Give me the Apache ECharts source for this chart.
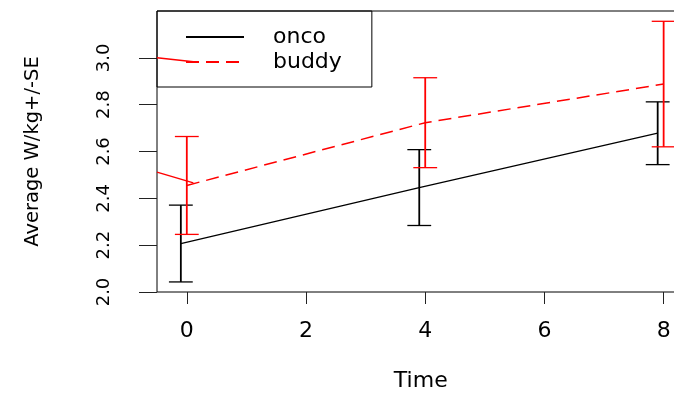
<!DOCTYPE html>
<html><head><meta charset="utf-8">
<script src="https://cdn.jsdelivr.net/npm/echarts@6/dist/echarts.min.js"></script>
<style>html,body{margin:0;padding:0;background:#fff}#c{width:674px;height:395px}</style>
</head><body><div id="c"></div>
<script>
// ---- data ----
const xTicks = [0, 2, 4, 6, 8];
const yTicks = [2.0, 2.2, 2.4, 2.6, 2.8, 3.0];
const oncoTime = [-0.1, 3.9, 7.9];
const oncoMean = [2.207, 2.446, 2.678];
const oncoSE = [0.164, 0.162, 0.134];
const buddyTime = [0, 4, 8];
const buddyMean = [2.455, 2.723, 2.888];
const buddySE = [0.209, 0.192, 0.268];
// stray solid red strokes visible in the reference (start of dashed paths)
const buddyStrayX = [-0.5, 0.11];
const buddyStrayY = [2.512, 2.466];
const legendStrayX = [-0.5, 0.11];
const legendStrayY = [3.0, 2.983];

const zip = (a, b) => a.map((v, i) => [v, b[i]]);
const errData = (t, m, s) => t.map((v, i) => [v, m[i] - s[i], m[i] + s[i]]);

function errorBar(color) {
  return function (params, api) {
    const x = api.value(0), lo = api.value(1), hi = api.value(2);
    const top = api.coord([x, hi]), bot = api.coord([x, lo]);
    const half = api.size([0.2, 0])[0];
    return {
      type: 'group',
      children: [
        { type: 'line', shape: { x1: top[0], y1: top[1], x2: bot[0], y2: bot[1] }, style: { stroke: color, lineWidth: 1.8 } },
        { type: 'line', shape: { x1: top[0] - half, y1: top[1], x2: top[0] + half, y2: top[1] }, style: { stroke: color, lineWidth: 1.3 } },
        { type: 'line', shape: { x1: bot[0] - half, y1: bot[1], x2: bot[0] + half, y2: bot[1] }, style: { stroke: color, lineWidth: 1.3 } }
      ]
    };
  };
}

const chart = echarts.init(document.getElementById('c'), null, { renderer: 'canvas' });
chart.setOption({
  animation: false,
  backgroundColor: '#fff',
  grid: { left: 157, top: 11, width: 527.5, height: 281, show: true, borderColor: '#000', borderWidth: 1, backgroundColor: 'transparent', containLabel: false, outerBoundsMode: 'none' },
  legend: {
    data: ['onco', 'buddy'],
    orient: 'vertical',
    left: 157, top: 11,
    padding: [15, 30, 14, 28],
    itemWidth: 58, itemHeight: 14, itemGap: 3,
    borderColor: '#000', borderWidth: 1,
    itemStyle: { opacity: 0 },
    textStyle: { fontFamily: 'DejaVu Sans', fontSize: 22, color: '#000', lineHeight: 22, padding: [0, 0, 0, 24] },
    selectedMode: false
  },
  xAxis: {
    type: 'value', min: -0.5, max: 8.35,
    name: 'Time', nameLocation: 'middle', nameGap: 78,
    nameTextStyle: { fontFamily: 'DejaVu Sans', fontSize: 22, color: '#000' },
    axisLine: { show: false, onZero: false },
    axisTick: { show: true, customValues: xTicks, length: 12, lineStyle: { color: '#222', width: 1 } },
    axisLabel: { customValues: xTicks, margin: 28, fontFamily: 'DejaVu Sans', fontSize: 22, color: '#000' },
    splitLine: { show: false }
  },
  yAxis: {
    type: 'value', min: 2.0, max: 3.2,
    name: 'Average W/kg+/-SE', nameLocation: 'middle', nameGap: 114, nameRotate: 90,
    nameTextStyle: { fontFamily: 'DejaVu Sans', fontSize: 19.5, color: '#000' },
    axisLine: { show: false, onZero: false },
    axisTick: { show: true, customValues: yTicks, length: 18, lineStyle: { color: '#222', width: 1 } },
    axisLabel: { customValues: yTicks, rotate: 90, margin: 44, fontFamily: 'DejaVu Sans', fontSize: 18, color: '#000', formatter: v => v.toFixed(1) },
    splitLine: { show: false }
  },
  series: [
    { name: 'onco', type: 'line', data: zip(oncoTime, oncoMean), symbol: 'none', lineStyle: { color: '#000', width: 1.3 }, itemStyle: { color: '#000' }, z: 3 },
    { name: 'buddy', type: 'line', data: zip(buddyTime, buddyMean), symbol: 'none', lineStyle: { color: '#ff0000', width: 1.5, type: [13, 7] }, itemStyle: { color: '#ff0000' }, z: 3 },
    { name: 'strayA', type: 'line', data: zip(buddyStrayX, buddyStrayY), symbol: 'none', silent: true, lineStyle: { color: '#ff0000', width: 1.5 }, z: 3 },
    { name: 'strayB', type: 'line', data: zip(legendStrayX, legendStrayY), symbol: 'none', silent: true, lineStyle: { color: '#ff0000', width: 1.5 }, z: 5 },
    { name: 'oncoSE', type: 'custom', renderItem: errorBar('#000'), data: errData(oncoTime, oncoMean, oncoSE), encode: { x: 0, y: [1, 2] }, z: 4, silent: true },
    { name: 'buddySE', type: 'custom', renderItem: errorBar('#ff0000'), data: errData(buddyTime, buddyMean, buddySE), encode: { x: 0, y: [1, 2] }, z: 4, silent: true }
  ]
});
</script></body></html>
